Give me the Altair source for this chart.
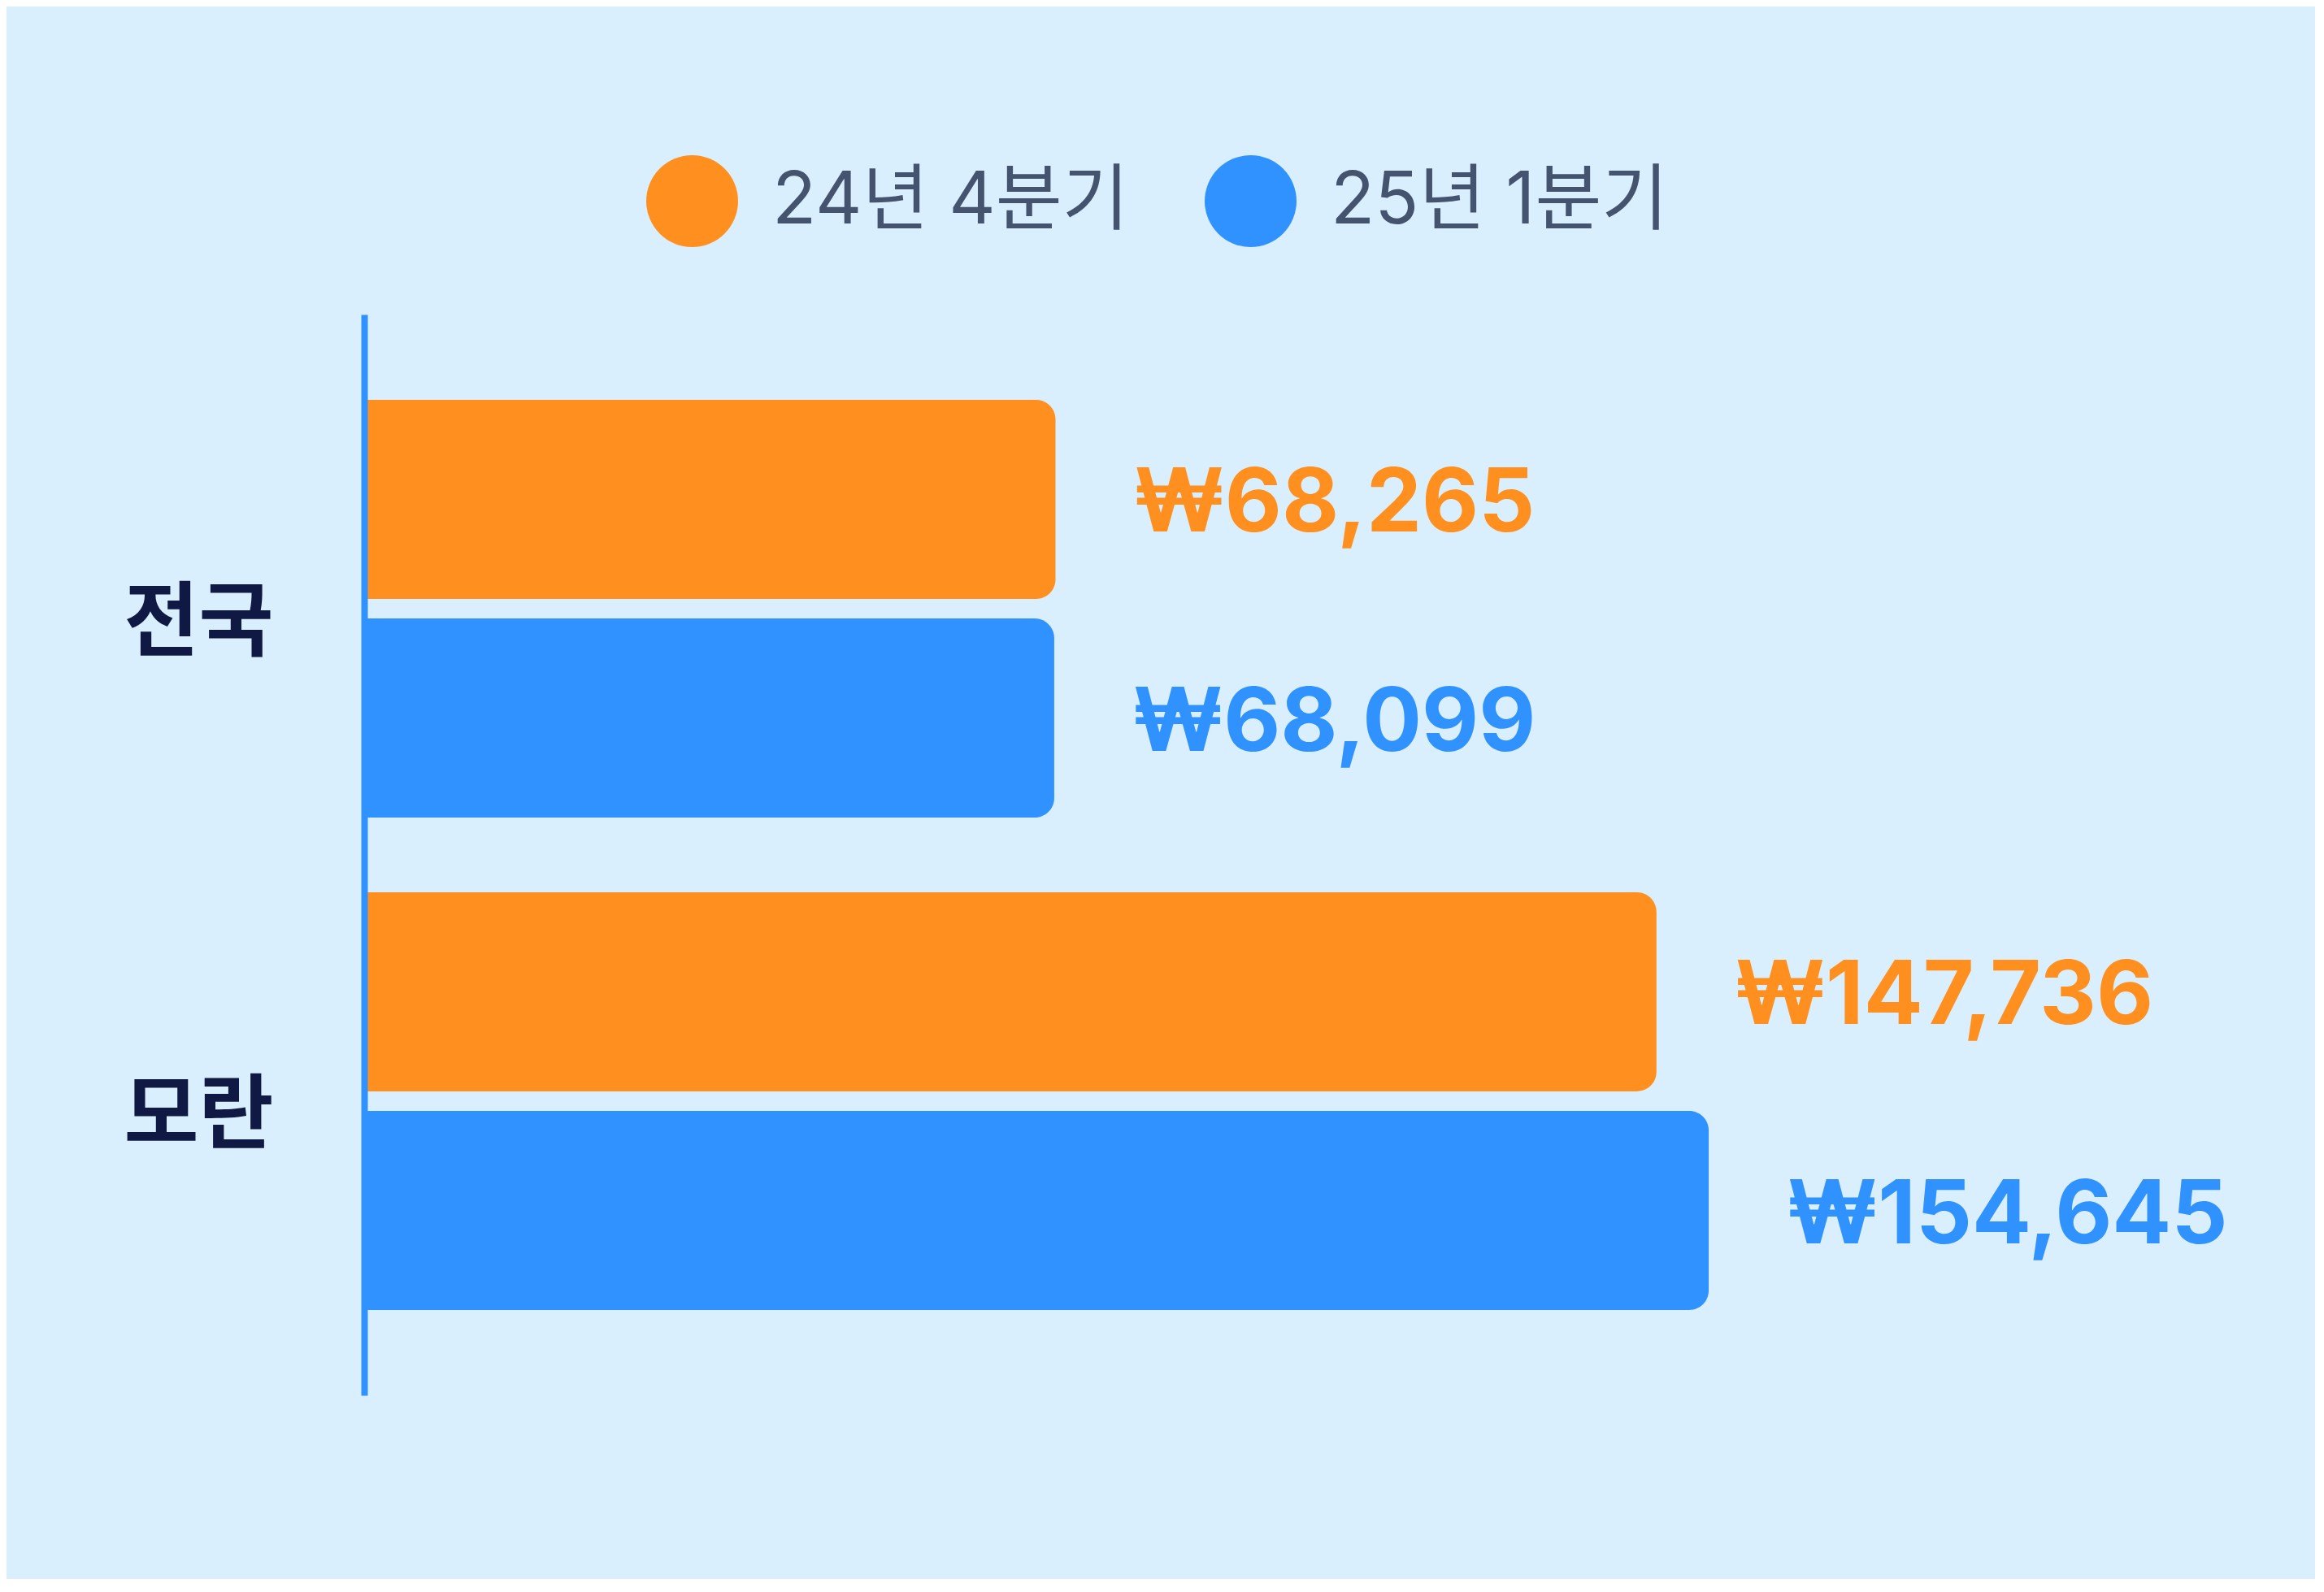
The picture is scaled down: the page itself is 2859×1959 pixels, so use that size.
import altair as alt
import pandas as pd

# ---- data ----
regions = ["전국", "모란"]
periods = ["24년 4분기", "25년 1분기"]
values_24q4 = [68265, 147736]
values_25q1 = [68099, 154645]
colors = ["#FF8F1F", "#3092FF"]

rows = []
for i, r in enumerate(regions):
    rows.append({"region": r, "period": periods[0], "value": values_24q4[i]})
    rows.append({"region": r, "period": periods[1], "value": values_25q1[i]})
df = pd.DataFrame(rows)

x_domain = [-23154, 224078]

base = alt.Chart(df).encode(
    y=alt.Y(
        "region:N",
        sort=regions,
        scale=alt.Scale(paddingInner=0.152, paddingOuter=0.1733),
        axis=alt.Axis(
            title=None,
            domain=True,
            domainColor="#3092FF",
            domainWidth=8,
            ticks=False,
            tickSize=0,
            grid=False,
            labelFont="Noto Sans CJK KR",
            labelFontSize=100,
            labelFontWeight="bold",
            labelColor="#101944",
            labelPadding=112,
            labelOffset=20,
            labelLimit=0,
            zindex=1,
        ),
    ),
    yOffset=alt.YOffset("period:N", sort=periods,
                        scale=alt.Scale(paddingInner=0.09, paddingOuter=0)),
    x=alt.X("value:Q", scale=alt.Scale(domain=x_domain, zero=False, nice=False), axis=None),
    color=alt.Color(
        "period:N",
        sort=periods,
        scale=alt.Scale(domain=periods, range=colors),
        legend=alt.Legend(
            title=None,
            orient="none",
            legendX=347,
            legendY=-196,
            direction="horizontal",
            symbolType="circle",
            symbolSize=12769,
            symbolStrokeWidth=0,
            symbolOpacity=1,
            labelFont="Inter, Noto Sans CJK KR",
            labelFontSize=89,
            labelColor="#44546F",
            labelOffset=42,
            columnPadding=93,
            padding=0,
            labelLimit=0,
        ),
    ),
)

bars = base.mark_bar(cornerRadiusTopRight=24, cornerRadiusBottomRight=24).encode(
    x2=alt.X2(datum=x_domain[0])
)

labels = base.transform_calculate(
    label="'₩' + format(datum.value, ',')"
).mark_text(
    align="left", baseline="middle", dx=96, dy=8,
    font="Inter", fontSize=108, fontWeight="bold"
).encode(text="label:N")

chart = (bars + labels).properties(
    width=2300,
    height=1330,
    background="#DAEFFD",
    padding={"left": 440, "top": 379, "right": 100, "bottom": 226},
    autosize=alt.AutoSizeParams(type="none"),
).configure_view(strokeWidth=0)

chart.save("out.html", embed_options={"renderer": "svg", "actions": False})
